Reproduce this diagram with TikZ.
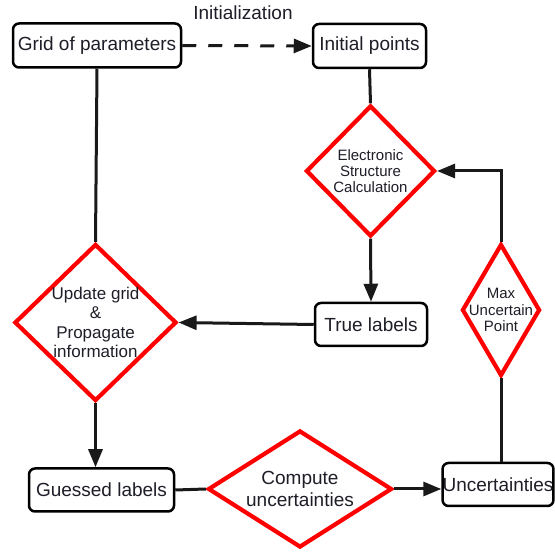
\documentclass[tikz,border=0pt]{standalone}
\usepackage{fontspec}
\setmainfont{Liberation Sans}
\usetikzlibrary{shapes.geometric,arrows.meta}
\definecolor{txt}{RGB}{30,30,40}
\definecolor{dred}{RGB}{255,0,0}
\begin{document}
\begin{tikzpicture}[x=1pt,y=-1pt,
  box/.style={draw=black, line width=2.5pt, rounded corners=6pt, inner sep=0pt, text=txt, font=\fontsize{19}{22}\selectfont, fill=white},
  dia/.style={diamond, draw=dred, line width=4.2pt, inner sep=0pt, fill=white},
  dtext/.style={align=center, text=txt, inner sep=0pt},
  conn/.style={line width=3pt, draw=black!90},
  arr/.style={conn, -{Triangle[length=18pt,width=14pt]}},
]
\fill[white] (0,0) rectangle (555,553);
\useasboundingbox (0,0) rectangle (555,553);

% boxes
\node[box, minimum width=168, minimum height=44] (grid) at (97,45.5) {Grid of parameters};
\node[box, minimum width=113, minimum height=44] (init) at (369.5,46) {Initial points};
\node[box, minimum width=112, minimum height=43] (tl) at (371,324.5) {True labels};
\node[box, minimum width=145, minimum height=43] (gl) at (101.5,490) {Guessed labels};
\node[box, minimum width=108, minimum height=43] (unc) at (498,484.5) {Uncertainties};

% diamonds
\node[dia, minimum width=129, minimum height=131] (esc) at (370.5,171) {};
\node[dtext, font=\fontsize{15}{16.3}\selectfont] (esct) at (esc.center) {Electronic\\Structure\\Calculation};
\node[dia, minimum width=162, minimum height=157] (ug) at (95.5,322.5) {};
\node[dtext, font=\fontsize{17}{19.2}\selectfont] (ugt) at (ug.center) {Update grid\\\&\\Propagate\\information};
\node[dia, minimum width=78, minimum height=132] (mup) at (501,310) {};
\node[dtext, font=\fontsize{15}{16.5}\selectfont] (mupt) at (mup.center) {Max\\Uncertain\\Point};
\node[dia, minimum width=184, minimum height=117] (cu) at (300,489) {};
\node[dtext, font=\fontsize{19}{22}\selectfont] (cut) at (cu.center) {Compute\\uncertainties};

% label
\node[text=txt, font=\fontsize{19}{22}\selectfont, anchor=base, inner sep=0pt] (initlab) at (243,20) {Initialization};

% connectors
\draw[arr, dash pattern=on 14pt off 12pt] (grid.east) -- (init.west);
\draw[conn] (grid.south) -- (ug.north);
\draw[conn] (init.south) -- (esc.north);
\draw[arr] (esc.south) -- (tl.north);
\draw[arr] (tl.west) -- (ug.east);
\draw[arr] (ug.south) -- (ug.south |- gl.north);
\draw[conn] (gl.east) -- (cu.west);
\draw[arr] (cu.east) -- (cu.east -| unc.west);
\draw[conn] (mup.south |- unc.north) -- (mup.south);
\draw[arr] (mup.north) |- (esc.east);
\end{tikzpicture}
\end{document}
